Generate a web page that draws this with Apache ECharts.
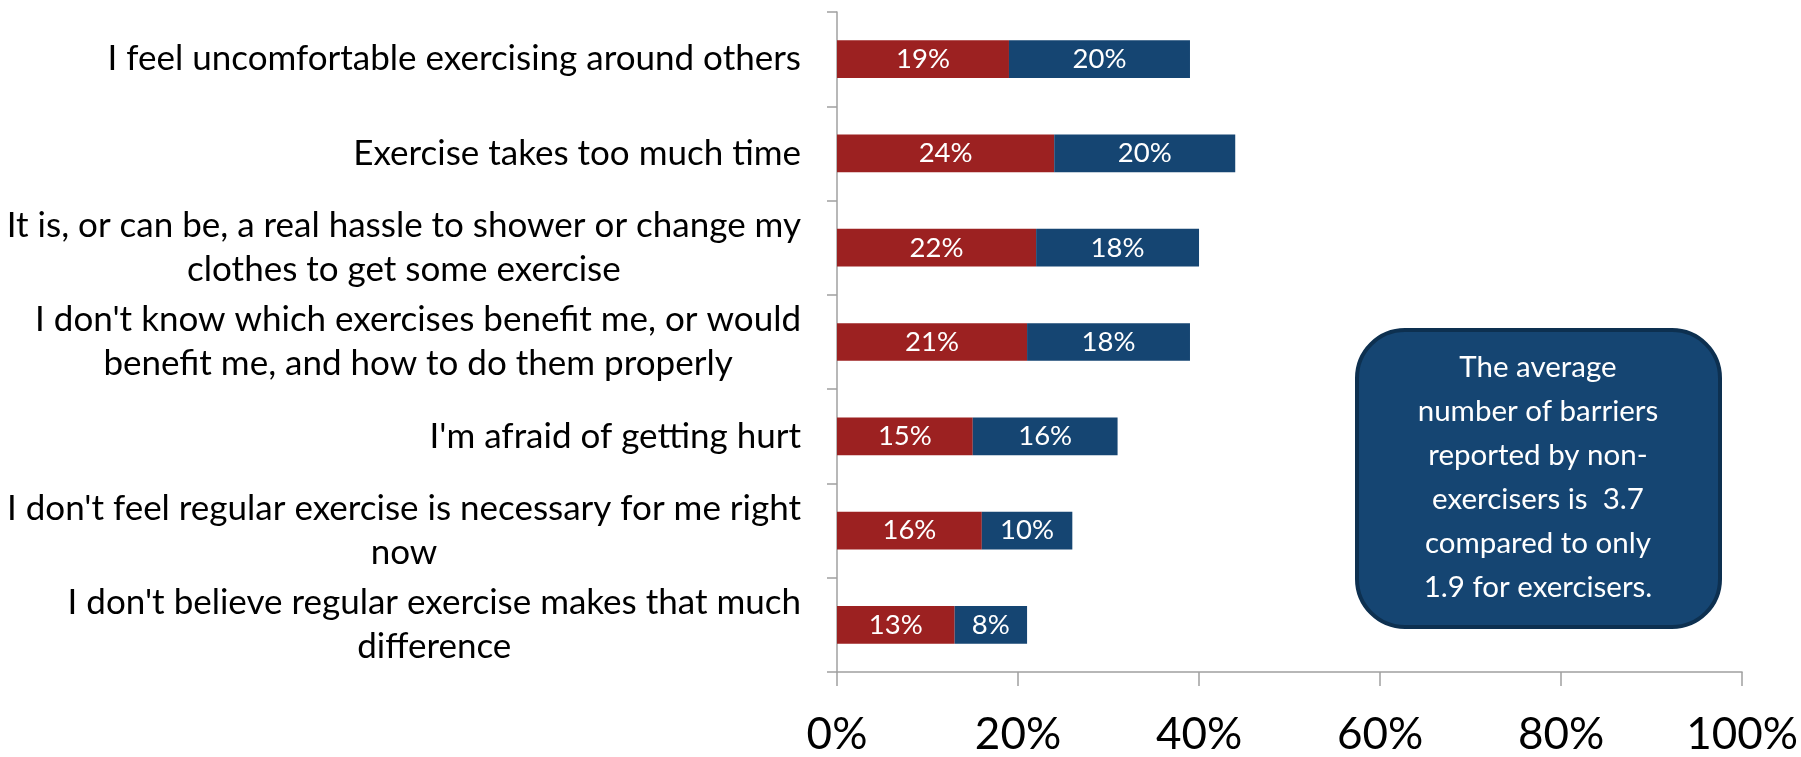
<!DOCTYPE html>
<html>
<head>
<meta charset="utf-8">
<script src="https://cdn.jsdelivr.net/npm/echarts@6/dist/echarts.min.js"></script>
<style>
  html, body { margin: 0; padding: 0; background: #ffffff; }
  #chart { width: 1801px; height: 757px; }
</style>
</head>
<body>
<div id="chart"></div>
<script>
// Barriers to exercise, share of respondents per group (stacked)
const categories = [
  "I feel uncomfortable exercising around others",
  "Exercise takes too much time",
  "It is, or can be, a real hassle to shower or change my\nclothes to get some exercise",
  "I don't know which exercises benefit me, or would\nbenefit me, and how to do them properly",
  "I'm afraid of getting hurt",
  "I don't feel regular exercise is necessary for me right\nnow",
  "I don't believe regular exercise makes that much\ndifference"
];
const nonExercisers = [19, 24, 22, 21, 15, 16, 13];
const exercisers = [20, 20, 18, 18, 16, 10, 8];
const xTicks = [0, 20, 40, 60, 80, 100];
const noteLines = [
  "The average",
  "number of barriers",
  "reported by non-",
  "exercisers is  3.7",
  "compared to only",
  "1.9 for exercisers."
];

const FONT = "Lato";
const RED = "#9c2121";
const BLUE = "#154572";
const AXIS = "#a0a0a0";

const chart = echarts.init(document.getElementById("chart"), null, { renderer: "canvas" });

const barLabel = {
  show: true,
  position: "inside",
  color: "#ffffff",
  fontFamily: FONT,
  fontSize: 27.5,
  formatter: p => p.value + "%"
};

chart.setOption({
  animation: false,
  backgroundColor: "#ffffff",
  grid: { left: 837, right: 58, top: 12, bottom: 78, containLabel: false },
  xAxis: {
    type: "value",
    min: xTicks[0],
    max: xTicks[xTicks.length - 1],
    interval: xTicks[1] - xTicks[0],
    axisLine: { show: true, lineStyle: { color: AXIS, width: 1.5 } },
    axisTick: { show: true, length: 14, lineStyle: { color: AXIS, width: 1.5 } },
    splitLine: { show: false },
    axisLabel: {
      margin: 41,
      color: "#000000",
      fontFamily: FONT,
      fontSize: 44,
      formatter: v => v + "%"
    }
  },
  yAxis: {
    type: "category",
    inverse: true,
    data: categories,
    axisLine: { show: true, lineStyle: { color: AXIS, width: 1.5 } },
    axisTick: { show: true, length: 10, lineStyle: { color: AXIS, width: 1.5 } },
    axisLabel: {
      margin: 36,
      align: "right",
      color: "#000000",
      fontFamily: FONT,
      fontSize: 35,
      lineHeight: 44,
      formatter: v => v.split("\n").map(s => "{c|" + s + "}").join("\n"),
      rich: {
        c: { align: "center", fontFamily: FONT, fontSize: 35, lineHeight: 44, color: "#000000" }
      }
    }
  },
  series: [
    {
      name: "Non-exercisers",
      type: "bar",
      stack: "total",
      barCategoryGap: "60%",
      data: nonExercisers,
      itemStyle: { color: RED },
      label: barLabel
    },
    {
      name: "Exercisers",
      type: "bar",
      stack: "total",
      barCategoryGap: "60%",
      data: exercisers,
      itemStyle: { color: BLUE },
      label: barLabel
    }
  ],
  graphic: [
    {
      type: "group",
      left: 1355,
      top: 328,
      children: [
        {
          type: "rect",
          shape: { x: 0, y: 0, width: 363, height: 297, r: 48 },
          style: { fill: BLUE, stroke: "#0d3050", lineWidth: 4 }
        },
        {
          type: "text",
          x: 181,
          y: 147,
          style: {
            text: noteLines.join("\n"),
            fill: "#ffffff",
            fontFamily: FONT,
            fontSize: 29.5,
            lineHeight: 44,
            align: "center",
            verticalAlign: "middle"
          }
        }
      ]
    }
  ]
});
</script>
</body>
</html>
